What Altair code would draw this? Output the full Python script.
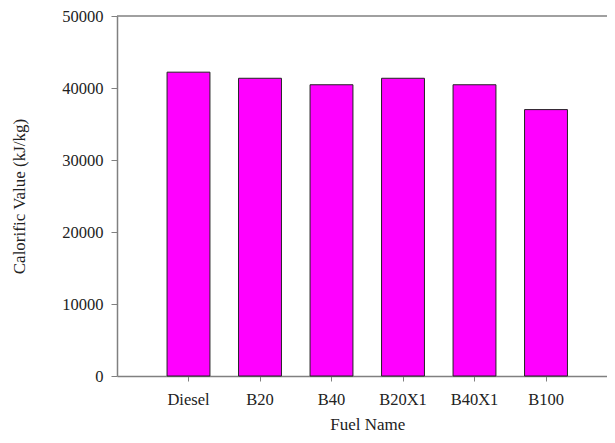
import altair as alt
import pandas as pd

fuels = ["Diesel", "B20", "B40", "B20X1", "B40X1", "B100"]
values = [42200, 41350, 40450, 41350, 40450, 37000]

df = pd.DataFrame({"fuel": fuels, "value": values})

base = alt.Chart(df)

bars = base.mark_bar(color="#FF00FF", stroke="#222222", strokeWidth=1).encode(
    x=alt.X("fuel:N", sort=fuels,
            scale=alt.Scale(paddingInner=0.4, paddingOuter=0.7, range=[0, 500.5]),
            axis=alt.Axis(title="Fuel Name", labelAngle=0, tickSize=5,
                          labelPadding=10, titlePadding=9)),
    y=alt.Y("value:Q", scale=alt.Scale(domain=[0, 50000], nice=False),
            axis=alt.Axis(title="Calorific Value (kJ/kg)", values=[0, 10000, 20000, 30000, 40000, 50000],
                          format="d", tickSize=6, labelPadding=8, titlePadding=33, grid=False)),
)

top = alt.Chart(pd.DataFrame({"v": [50000]})).mark_rule(color="#808080", strokeWidth=1.5).encode(
    y=alt.Y("v:Q", scale=alt.Scale(domain=[0, 50000], nice=False)),
    x=alt.value(0), x2=alt.value(520),
)

chart = alt.layer(bars, top).properties(
    width=490, height=360,
    autosize=alt.AutoSizeParams(type="none"),
    padding={"left": 109, "top": 8, "right": 0, "bottom": 59},
).configure_view(stroke=None).configure_axis(
    domainColor="#808080", domainWidth=1.5, tickColor="#808080",
    labelFont="Liberation Serif", titleFont="Liberation Serif",
    labelFontSize=16.5, titleFontSize=17, labelColor="#222222", titleColor="#222222",
    titleFontWeight="normal",
)

chart.save("out.html", embed_options={"renderer": "svg", "actions": False})
